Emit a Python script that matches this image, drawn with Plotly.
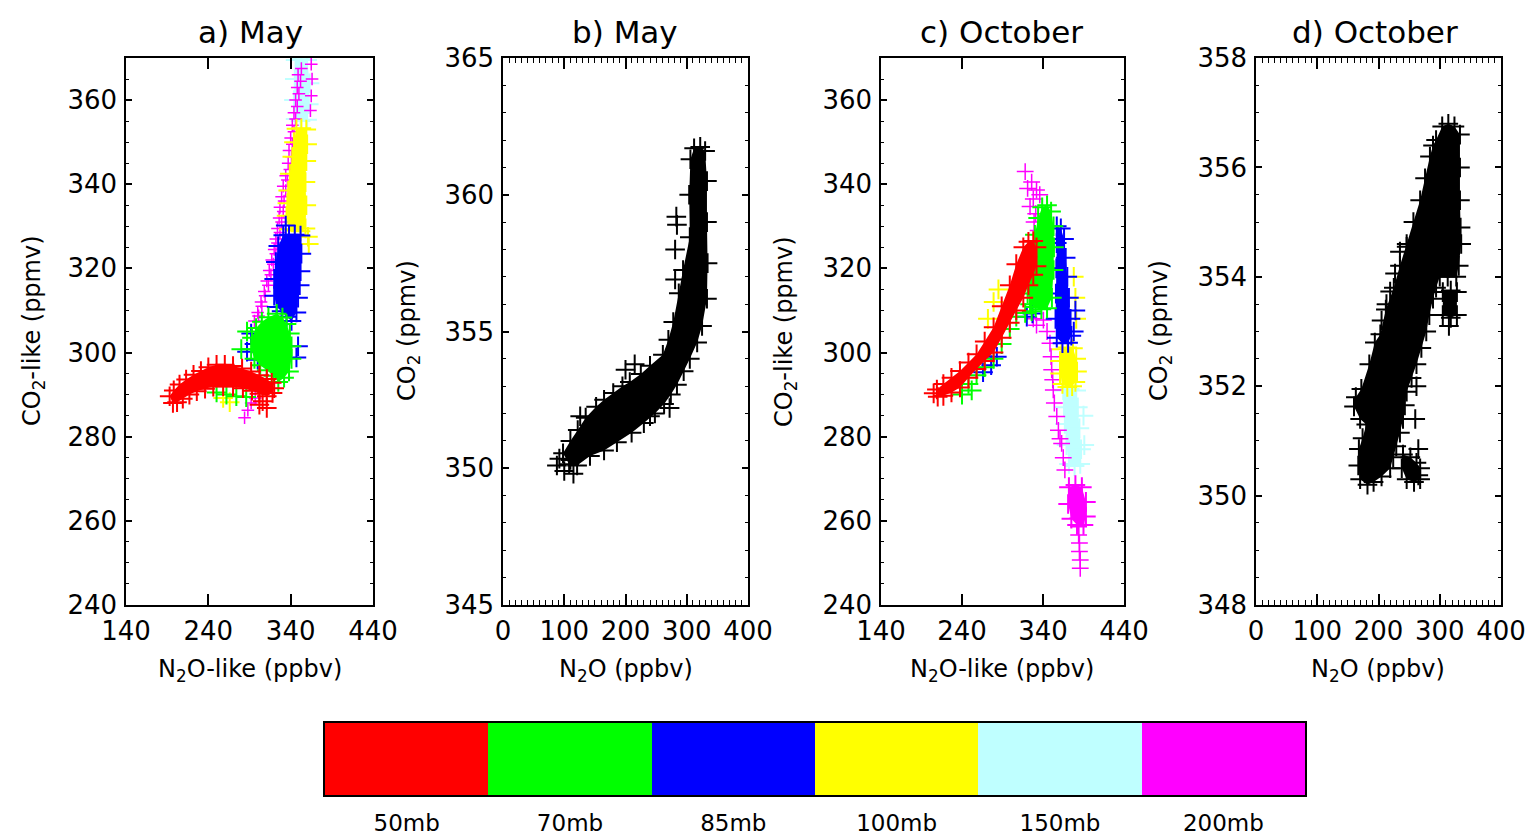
import plotly.graph_objects as go

# ---------------- categories / colours ----------------
LEVELS = ["50mb", "70mb", "85mb", "100mb", "150mb", "200mb"]
COLORS = ["#FF0000", "#00FF00", "#0000FF", "#FFFF00", "#BFFFFF", "#FF00FF"]
PANEL_TITLES = ["a) May", "b) May", "c) October", "d) October"]

# ---------------- panel a (May, N2O-like vs CO2-like) ----------------
# envelopes of the dense point clouds (edge points) and scattered points
a50_env_x = [193, 198, 205, 213, 222, 231, 240, 250, 260, 270, 281, 292, 302, 311, 317, 320,
             318, 311, 302, 293, 282, 270, 258, 246, 236, 226, 217, 209, 202, 197]
a50_env_y = [289.6, 291.0, 292.4, 293.6, 294.7, 295.6, 296.5, 297.1, 297.1, 296.8, 296.2, 295.5, 294.6, 293.7, 292.8, 291.5,
             290.4, 289.6, 290.2, 290.9, 291.5, 291.9, 292.0, 291.9, 291.4, 290.8, 290.0, 289.0, 288.2, 288.0]
a50_pts_x = [302, 311, 306]
a50_pts_y = [287.6, 286.8, 288.4]

a70_env_x = [323, 330, 335, 339, 341, 341, 338, 332, 325, 319, 311, 303, 296, 292, 293, 298, 305, 313]
a70_env_y = [309.2, 308.3, 306.8, 304.5, 301.5, 298.5, 295.5, 294.0, 293.0, 294.5, 295.8, 297.0, 298.5, 300.8, 303.5, 305.8, 307.3, 308.4]
a70_pts_x = [250, 262, 274, 286, 287, 280]
a70_pts_y = [290.5, 290.0, 289.6, 289.4, 305.0, 300.8]

a85_env_x = [331, 338, 345, 352, 353, 352, 351, 349, 347, 341, 335, 329, 323, 320, 320, 322, 325]
a85_env_y = [327.9, 328.0, 328.0, 327.8, 323.5, 319.3, 316.0, 313.0, 309.5, 307.5, 308.5, 309.8, 310.8, 313.5, 317.5, 321.5, 325.3]
a85_pts_x = [334, 349, 347, 292, 287, 300, 296]
a85_pts_y = [330.2, 301.5, 298.8, 304.5, 300.2, 298.3, 302.0]

a100_env_x = [347, 353, 359, 360, 359, 358, 359, 358, 352, 345, 338, 335, 336, 337, 339, 342, 344]
a100_env_y = [353.2, 353.3, 353.0, 349.5, 345.5, 340.5, 335.0, 329.5, 328.8, 329.0, 329.3, 332.5, 335.5, 338.5, 342.5, 346.5, 350.0]
a100_pts_x = [258, 266, 362, 361]
a100_pts_y = [289.2, 288.2, 325.8, 327.5]

a150_env_x = [346, 353, 360, 363, 362, 360, 352, 346, 344, 345]
a150_env_y = [369.5, 369.7, 369.5, 364.0, 359.0, 355.3, 355.0, 355.5, 360.0, 365.0]
a150_pts_x = []
a150_pts_y = []

a200_env_x = []
a200_env_y = []
a200_pts_x = [296, 300, 304, 308, 311, 314, 317, 320, 322, 324, 326, 327, 329, 331, 334, 337, 338, 340, 342, 344,
              346, 348, 349, 365, 366, 365, 364, 284, 288, 292, 297,
              301, 305, 309, 313, 316, 319, 322, 324, 327, 329, 331, 332, 334, 336, 339, 341, 342, 344, 346,
              348, 350, 352, 353]
a200_pts_y = [307.5, 309.5, 312.0, 314.5, 317.0, 319.5, 322.0, 324.5, 327.0, 329.5, 332.0, 334.5, 337.0, 339.5, 342.0,
              345.0, 348.0, 351.0, 354.0, 357.0, 360.0, 363.0, 366.0, 368.5, 365.0, 361.0, 357.5, 284.5, 286.3, 288.0, 289.2,
              308.7, 311.0, 313.5, 316.0, 318.5, 321.0, 323.5, 326.0, 328.5, 331.0, 333.5, 336.0, 338.5, 341.0,
              343.5, 346.5, 349.5, 352.5, 355.5, 358.5, 361.5, 364.5, 367.5]

# ---------------- panel b (May, N2O vs CO2) ----------------
b_env_x = [98, 110, 122, 135, 152, 165, 180, 195, 207, 225, 240, 261, 270, 278, 287, 294, 305,
           304, 306, 312, 322, 330,
           333, 333, 334, 333, 325, 317, 305, 295, 284, 274, 263, 248, 230, 210, 186, 165, 142, 121, 108]
b_env_y = [350.55, 351.0, 351.4, 351.85, 352.25, 352.5, 352.75, 353.0, 353.15, 353.45, 353.75, 354.15, 354.7, 355.35, 356.4, 357.25, 358.45,
           360.0, 361.3, 361.7, 361.75, 361.6,
           360.5, 359.0, 357.5, 356.2, 355.2, 354.6, 354.0, 353.55, 353.05, 352.7, 352.35, 352.0, 351.65, 351.3, 350.95, 350.65, 350.45, 350.1, 350.15]
b_pts_x = [283, 284, 281, 281, 200, 215, 240, 272, 126, 88, 100, 115, 92, 110]
b_pts_y = [359.2, 358.9, 358.0, 356.9, 353.6, 353.8, 351.9, 352.2, 351.9, 350.1, 349.9, 349.8, 350.35, 350.3]

# ---------------- panel c (October, N2O-like vs CO2-like) ----------------
c50_env_x = [209, 217, 227, 237.5, 248, 258, 268, 279, 289, 299, 307, 315.7, 322, 328, 332,
             332, 328, 322, 315.7, 307, 299, 289, 279, 268, 258, 248, 237.5, 227, 217, 210]
c50_env_y = [291.2, 292.5, 294.0, 295.6, 297.6, 299.6, 302.6, 306.0, 311.0, 316.0, 321.0, 325.0, 326.3, 326.5, 325.0,
             320.5, 318.5, 316.0, 313.0, 310.0, 307.1, 303.5, 300.0, 298.0, 296.1, 294.0, 291.7, 290.5, 289.7, 289.5]
c50_pts_x = [205]
c50_pts_y = [290.3]

c70_env_x = [339, 345, 350, 353, 353.5, 353, 351, 345, 338, 331, 324, 321, 322, 326, 330, 334]
c70_env_y = [334.5, 335.0, 333.5, 330.0, 325.0, 319.6, 313.0, 310.5, 310.3, 310.8, 311.5, 314.0, 318.0, 323.0, 328.0, 332.0]
c70_pts_x = [240, 252, 248, 258, 268, 279, 289, 299, 307, 318, 326]
c70_pts_y = [290.0, 291.0, 292.5, 294.6, 296.5, 298.5, 302.0, 305.6, 308.5, 309.4, 309.8]

c85_env_x = [357, 362, 366, 368, 370, 372, 374, 375, 371, 364, 357, 355.5, 356, 356.5, 357]
c85_env_y = [330.0, 329.5, 327.0, 322.5, 318.0, 313.0, 308.0, 304.0, 302.3, 302.2, 303.5, 308.0, 314.0, 320.0, 326.0]
c85_pts_x = [320, 327, 276, 283, 266, 380, 378]
c85_pts_y = [308.5, 309.3, 297.0, 299.0, 295.3, 310.0, 305.0]

c100_env_x = [363, 370, 377, 381, 382, 380, 376, 370, 364, 361, 361]
c100_env_y = [300.8, 301.2, 301.0, 298.5, 295.5, 293.0, 292.0, 291.8, 292.5, 295.0, 298.0]
c100_pts_x = [378, 380, 381, 279, 285, 272]
c100_pts_y = [318.0, 313.0, 308.0, 312.0, 315.0, 308.0]

c150_env_x = [365, 373, 381, 383, 385, 387, 386, 379, 372, 369, 367, 366]
c150_env_y = [291.0, 291.3, 291.0, 287.0, 282.0, 277.0, 273.5, 273.0, 273.5, 278.0, 283.0, 287.0]
c150_pts_x = [390, 391]
c150_pts_y = [285.0, 278.0]

c200_env_x = [372, 380, 388, 393, 393, 390, 382, 375, 371]
c200_env_y = [268.0, 268.5, 268.0, 264.5, 261.0, 259.0, 259.0, 260.5, 264.0]
c200_pts_x = [318, 326, 332, 336, 328, 324, 331, 329, 334, 321,
              340.5, 345, 348.6, 350, 350.7, 352, 352.7, 354, 357, 359, 361, 363, 365, 367,
              383, 384, 384, 385, 385, 386, 386, 328, 332]
c200_pts_y = [343.0, 340.5, 338.6, 337.5, 336.5, 334.7, 333.0, 331.0, 329.0, 339.0,
              307.7, 305.0, 302.2, 299.0, 295.9, 293.5, 291.1, 288.0, 284.8, 281.5, 279.5, 278.4, 275.0, 272.1,
              260.6, 258.6, 256.6, 254.7, 252.7, 250.7, 248.7, 308.0, 306.5]

# ---------------- panel d (October, N2O vs CO2) ----------------
d_env_x = [314, 324, 333, 333, 333, 334, 335, 331, 327, 313, 300, 294, 289, 283, 278, 270, 262, 254, 246, 243,
           240, 235, 229, 224, 219, 205, 192, 182, 170, 167, 168, 174, 180, 170, 160, 163, 172, 185, 194, 203,
           212, 225, 235, 246, 257, 268, 276, 284, 289, 294, 304]
d_env_y = [356.8, 356.75, 356.6, 356.0, 355.4, 354.9, 354.6, 354.2, 354.0, 354.0, 354.0, 353.8, 353.6, 353.3, 353.0,
           352.7, 352.4, 352.15, 351.9, 351.65, 351.4, 351.15, 350.9, 350.7, 350.5, 350.35, 350.25, 350.2, 350.3,
           350.55, 350.85, 351.05, 351.3, 351.4, 351.63, 351.8, 351.95, 352.4, 352.8, 352.95, 353.4, 353.8, 354.2,
           354.6, 355.0, 355.4, 355.8, 356.2, 356.4, 356.5, 356.75]
d_blk_x = [305, 318, 328, 328, 318, 305]
d_blk_y = [353.72, 353.75, 353.72, 353.3, 353.25, 353.3]
d_clu_x = [240, 252, 262, 268, 268, 258, 246, 238]
d_clu_y = [350.75, 350.7, 350.6, 350.5, 350.3, 350.25, 350.3, 350.5]
d_pts_x = [235, 246, 227, 219, 262, 260, 265, 265, 315, 213, 205]
d_pts_y = [354.46, 354.55, 354.06, 353.73, 352.0, 351.4, 350.85, 350.37, 353.1, 353.5, 353.2]

# ---------------- figure ----------------
FONT = "DejaVu Sans"
W, H = 1530, 837
fig = go.Figure()


def cloud(ex, ey, color, xa, ya, size=14):
    if not ex:
        return
    fig.add_trace(go.Scatter(x=ex, y=ey, mode="markers", fill="toself", fillcolor=color,
                             marker=dict(symbol="cross-thin", size=size, color=color,
                                         line=dict(width=2, color=color)),
                             xaxis=xa, yaxis=ya, hoverinfo="skip", showlegend=False))


def points(px, py, color, xa, ya, size=14, width=2):
    if not px:
        return
    fig.add_trace(go.Scatter(x=px, y=py, mode="markers",
                             marker=dict(symbol="cross-thin", size=size, color=color,
                                         line=dict(width=width, color=color)),
                             xaxis=xa, yaxis=ya, hoverinfo="skip", showlegend=False))


# drawing order: 150, 200, 100, 85, 70, 50 (red on top)
order = [4, 5, 3, 2, 1, 0]
a_env = {0: (a50_env_x, a50_env_y), 1: (a70_env_x, a70_env_y), 2: (a85_env_x, a85_env_y),
         3: (a100_env_x, a100_env_y), 4: (a150_env_x, a150_env_y), 5: (a200_env_x, a200_env_y)}
a_pts = {0: (a50_pts_x, a50_pts_y), 1: (a70_pts_x, a70_pts_y), 2: (a85_pts_x, a85_pts_y),
         3: (a100_pts_x, a100_pts_y), 4: (a150_pts_x, a150_pts_y), 5: (a200_pts_x, a200_pts_y)}
c_env = {0: (c50_env_x, c50_env_y), 1: (c70_env_x, c70_env_y), 2: (c85_env_x, c85_env_y),
         3: (c100_env_x, c100_env_y), 4: (c150_env_x, c150_env_y), 5: (c200_env_x, c200_env_y)}
c_pts = {0: (c50_pts_x, c50_pts_y), 1: (c70_pts_x, c70_pts_y), 2: (c85_pts_x, c85_pts_y),
         3: (c100_pts_x, c100_pts_y), 4: (c150_pts_x, c150_pts_y), 5: (c200_pts_x, c200_pts_y)}

for i in order:
    sz, wd = (9, 1.5) if i == 5 else (14, 2)
    cloud(*a_env[i], COLORS[i], "x", "y")
    points(*a_pts[i], COLORS[i], "x", "y", sz, wd)
    cloud(*c_env[i], COLORS[i], "x3", "y3")
    points(*c_pts[i], COLORS[i], "x3", "y3", 12 if i == 5 else 14, wd)

cloud(b_env_x, b_env_y, "black", "x2", "y2")
points(b_pts_x, b_pts_y, "black", "x2", "y2")
cloud(d_env_x, d_env_y, "black", "x4", "y4")
cloud(d_blk_x, d_blk_y, "black", "x4", "y4")
cloud(d_clu_x, d_clu_y, "black", "x4", "y4")
points(d_pts_x, d_pts_y, "black", "x4", "y4")

# colour key
fig.add_trace(go.Heatmap(z=[[0, 1, 2, 3, 4, 5]], x=LEVELS, y=[0], zmin=0, zmax=5,
                         colorscale=[[k / 5, c] for k, c in enumerate(COLORS)],
                         showscale=False, xaxis="x5", yaxis="y5", hoverinfo="skip"))

# ---------------- axes ----------------
px2fx = lambda p: p / W
py2fy = lambda p: 1 - p / H
YDOM = [py2fy(605), py2fy(58)]
XDOMS = [[px2fx(126), px2fx(373)], [px2fx(503), px2fx(748)],
         [px2fx(881), px2fx(1124)], [px2fx(1256), px2fx(1501)]]

tickfont = dict(family=FONT, size=26, color="black")
common = dict(showline=True, linecolor="black", linewidth=1.5, mirror="allticks", showgrid=False,
              zeroline=False, ticks="inside", tickcolor="black", tickwidth=1.5, tickfont=tickfont,
              tickmode="linear", automargin=False)


def minor(dt, ln):
    return dict(dtick=dt, ticks="inside", ticklen=ln, tickwidth=1.2, tickcolor="black", showgrid=False)


xcfg = [
    dict(range=[139.99, 440.01], tick0=140, dtick=100, ticklen=11),
    dict(range=[-0.01, 400.01], tick0=0, dtick=100, ticklen=11, minor=minor(10, 5)),
    dict(range=[139.99, 440.01], tick0=140, dtick=100, ticklen=11),
    dict(range=[-0.01, 400.01], tick0=0, dtick=100, ticklen=11, minor=minor(10, 5)),
]
ycfg = [
    dict(range=[239.99, 370], tick0=240, dtick=20, ticklen=6, minor=minor(5, 3)),
    dict(range=[344.999, 365.001], tick0=345, dtick=5, ticklen=6, minor=minor(1, 3)),
    dict(range=[239.99, 370], tick0=240, dtick=20, ticklen=6, minor=minor(5, 3)),
    dict(range=[347.999, 358.001], tick0=348, dtick=2, ticklen=6, minor=minor(0.5, 3)),
]
names = ["", "2", "3", "4"]
for k in range(4):
    n = names[k]
    fig.update_layout(**{
        "xaxis" + n: dict(domain=XDOMS[k], anchor="y" + n, ticklabelstandoff=2, **common, **xcfg[k]),
        "yaxis" + n: dict(domain=YDOM, anchor="x" + n, ticklabelstandoff=2, **common, **ycfg[k]),
    })

fig.update_layout(
    xaxis5=dict(domain=[px2fx(325), px2fx(1305)], anchor="y5", type="category", showline=True,
                linecolor="black", linewidth=1.5, mirror=True, ticks="", showgrid=False, zeroline=False,
                tickfont=dict(family=FONT, size=23, color="black"), ticklabelstandoff=7, automargin=False),
    yaxis5=dict(domain=[py2fy(795), py2fy(723)], anchor="x5", showline=True, linecolor="black",
                linewidth=1.5, mirror=True, ticks="", showticklabels=False, showgrid=False, zeroline=False,
                automargin=False),
)

# ---------------- titles ----------------
ann = []
title_cx = [250, 625, 1001, 1375]
for k in range(4):
    ann.append(dict(text=PANEL_TITLES[k], x=px2fx(title_cx[k]), y=py2fy(32), xref="paper", yref="paper",
                    showarrow=False, xanchor="center", yanchor="middle",
                    font=dict(family=FONT, size=31, color="black")))
xt = ["N<sub>2</sub>O-like (ppbv)", "N<sub>2</sub>O (ppbv)", "N<sub>2</sub>O-like (ppbv)", "N<sub>2</sub>O (ppbv)"]
yt = ["CO<sub>2</sub>-like (ppmv)", "CO<sub>2</sub> (ppmv)", "CO<sub>2</sub>-like (ppmv)", "CO<sub>2</sub> (ppmv)"]
xt_cx = [250, 626, 1002, 1378]
yt_cx = [33, 408, 785, 1160]
for k in range(4):
    ann.append(dict(text=xt[k], x=px2fx(xt_cx[k]), y=py2fy(670), xref="paper", yref="paper",
                    showarrow=False, xanchor="center", yanchor="middle",
                    font=dict(family=FONT, size=24, color="black")))
    ann.append(dict(text=yt[k], x=px2fx(yt_cx[k]), y=py2fy(331), xref="paper", yref="paper",
                    showarrow=False, xanchor="center", yanchor="middle", textangle=-90,
                    font=dict(family=FONT, size=24, color="black")))

fig.update_layout(width=W, height=H, margin=dict(l=0, r=0, t=0, b=0, autoexpand=False),
                  paper_bgcolor="white", plot_bgcolor="white", annotations=ann, showlegend=False)

# remove the browser's default page margin so the figure fills the window exactly
fig.write_html("out.html", config={"displayModeBar": False},
               post_script="document.body.style.margin='0px';")
